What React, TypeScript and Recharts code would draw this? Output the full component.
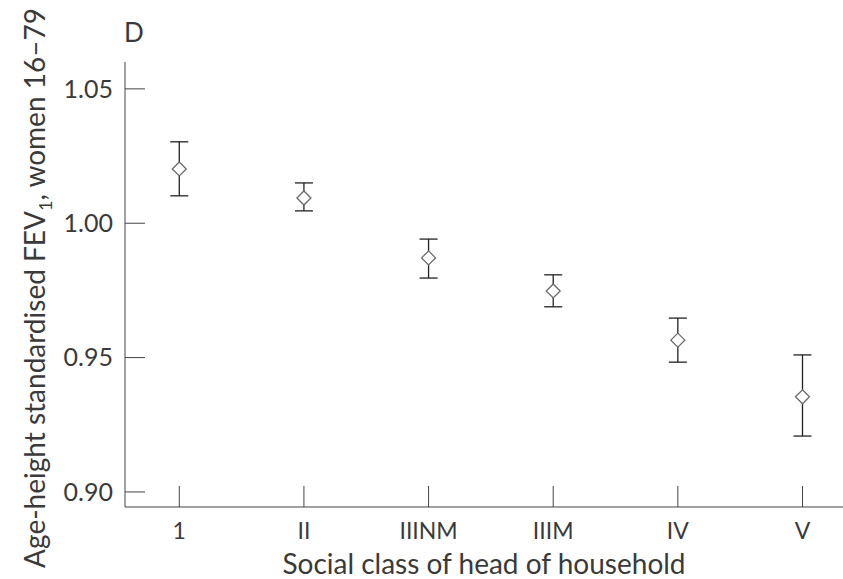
import { ErrorBar, Scatter, ScatterChart, XAxis, YAxis } from "recharts";

const classes = ["1", "II", "IIINM", "IIIM", "IV", "V"];
const fevMean = [1.0202, 1.0094, 0.9871, 0.9748, 0.9565, 0.9354];
const fevLower = [1.0102, 1.0046, 0.9796, 0.9689, 0.9483, 0.9208];
const fevUpper = [1.0303, 1.015, 0.9941, 0.9808, 0.9647, 0.951];
const yTicks = [0.9, 0.95, 1.0, 1.05];

const data = classes.map((name, i) => ({
  x: i + 1,
  name,
  y: fevMean[i],
  err: [fevMean[i] - fevLower[i], fevUpper[i] - fevMean[i]],
}));

const FONT = "Lato, 'DejaVu Sans', sans-serif";
const INK = "#3a3a3a";

const Diamond = (props: any) => {
  const { cx, cy } = props;
  const r = 7;
  return (
    <path
      d={`M${cx},${cy - r}L${cx + r},${cy}L${cx},${cy + r}L${cx - r},${cy}Z`}
      fill="#fff"
      stroke="#6a6a6a"
      strokeWidth={1.3}
    />
  );
};

export default function App() {
  return (
    <div style={{ position: "absolute", left: 0, top: 0, width: 843, height: 579, background: "#fff" }}>
      <ScatterChart width={843} height={579} margin={{ top: 62, right: 0, bottom: 0, left: 0 }}>
        <XAxis
          type="number"
          dataKey="x"
          domain={[0.5645, 6.325]}
          allowDataOverflow
          ticks={[1, 2, 3, 4, 5, 6]}
          tickFormatter={(v: number) => classes[v - 1]}
          height={72}
          tickSize={-21}
          tickMargin={37}
          stroke="#444"
          tick={{ fill: INK, fontSize: 23, fontFamily: FONT }}
        />
        <YAxis
          type="number"
          dataKey="y"
          domain={[0.8944, 1.06]}
          allowDataOverflow
          ticks={yTicks}
          tickFormatter={(v: number) => v.toFixed(2)}
          width={125}
          tickSize={-20}
          tickMargin={32}
          stroke="#444"
          tick={{ fill: INK, fontSize: 25, fontFamily: FONT }}
        />
        <Scatter data={data} shape={<Diamond />} isAnimationActive={false}>
          <ErrorBar dataKey="err" direction="y" width={9} stroke="#222" strokeWidth={1.3} />
        </Scatter>
      </ScatterChart>
      <svg
        width={843}
        height={579}
        style={{ position: "absolute", left: 0, top: 0, pointerEvents: "none" }}
      >
        <text x={124} y={42} fontSize={26} fontFamily={FONT} fill={INK}>
          D
        </text>
        <text
          x={484}
          y={574}
          textAnchor="middle"
          fontSize={28}
          fontFamily={FONT}
          fill={INK}
        >
          Social class of head of household
        </text>
        <text
          transform="translate(45,288) rotate(-90)"
          textAnchor="middle"
          fontSize={28}
          fontFamily={FONT}
          fill={INK}
        >
          Age-height standardised FEV
          <tspan fontSize={18} dy={7}>1</tspan>
          <tspan dy={-7}>, women 16–79</tspan>
        </text>
      </svg>
    </div>
  );
}
